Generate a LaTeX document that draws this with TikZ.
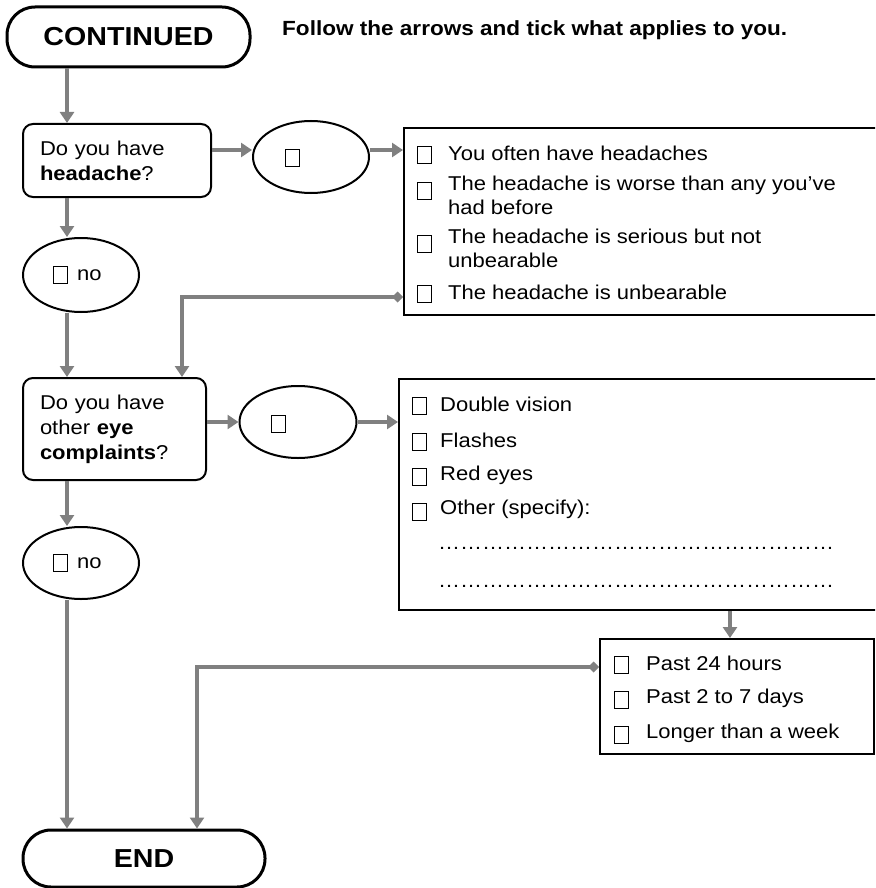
\documentclass[tikz,border=0pt]{standalone}
\usepackage{fontspec}
\setmainfont{Liberation Sans}[FakeStretch=1.1]
\usetikzlibrary{arrows.meta,shapes.geometric,calc}
\definecolor{arrgray}{RGB}{128,128,128}
\tikzset{
  arr/.style={draw=arrgray,line width=4pt,-{Triangle[length=11pt,width=14pt]}},
  darr/.style={draw=arrgray,line width=4pt,{Diamond[length=11pt,width=11pt]}-{Triangle[length=11pt,width=14pt]}},
  term/.style={draw,line width=3pt,rounded corners=28pt,inner sep=0pt,font=\fontsize{26}{30}\selectfont\bfseries},
  qbox/.style={draw,line width=2pt,rounded corners=10pt,inner xsep=17pt,inner ysep=0pt,align=left,font=\fontsize{20}{25}\selectfont},
  ans/.style={draw,line width=2pt,ellipse,inner sep=0pt,font=\fontsize{20}{24}\selectfont},
  lbox/.style={draw,line width=2pt,inner sep=0pt},
  chk/.style={draw,line width=1pt,minimum width=14pt,minimum height=17pt,inner sep=0pt},
  itm/.style={anchor=west,inner sep=0pt,align=left,font=\fontsize{20}{24}\selectfont},
}
\begin{document}
\begin{tikzpicture}[x=1pt,y=-1pt]
\useasboundingbox (0,0) rectangle (875,888);
\clip (0,0) rectangle (875,888);
% header
\node[anchor=west,inner sep=0pt,font=\fontsize{20.5}{24}\selectfont\bfseries] (hdr) at (282,30) {Follow the arrows and tick what applies to you.};
% terminals
\node[term,minimum width=243pt,minimum height=60pt] (cont) at (128.5,37) {CONTINUED};
\node[term,minimum width=242pt,minimum height=57pt] (end) at (144,858.5) {END};
% questions
\node[qbox,text width=154pt,minimum height=73pt] (head) at (117,160.5) {Do you have\\\textbf{headache}?};
\node[qbox,text width=149pt,minimum height=102pt] (eye) at (114.5,429) {Do you have\\other \textbf{eye}\\\textbf{complaints}?};
% answer ellipses
\node[ans,minimum width=116pt,minimum height=72pt] (ell1) at (311,157) {};
\node[chk] (c1) at (292.5,158) {};
\node[ans,minimum width=116pt,minimum height=74pt] (no1) at (81,275) {};
\node[chk,anchor=west] (cn1) at (53,275) {};
\node[itm] (tn1) at (77,275) {no};
\node[ans,minimum width=117pt,minimum height=72pt] (ell2) at (298,422) {};
\node[chk] (c2) at (278,424) {};
\node[ans,minimum width=116pt,minimum height=72pt] (no2) at (81,563) {};
\node[chk,anchor=west] (cn2) at (53,563) {};
\node[itm] (tn2) at (77,563) {no};
% list box 1
\node[lbox,anchor=north west,minimum width=480pt,minimum height=187pt] (list1) at (403,127) {};
\node[chk] (a1) at (424,155) {};
\node[itm] (t1) at (448,153) {You often have headaches};
\node[chk] (a2) at (424,191) {};
\node[itm] (t2) at (448,195) {The headache is worse than any you’ve\\had before};
\node[chk] (a3) at (424,244) {};
\node[itm] (t3) at (448,248) {The headache is serious but not\\unbearable};
\node[chk] (a4) at (424,294) {};
\node[itm] (t4) at (448,292) {The headache is unbearable};
% list box 2
\node[lbox,anchor=north west,minimum width=485pt,minimum height=231pt] (list2) at (398,378) {};
\node[chk] (b1) at (419.5,406) {};
\node[itm] (s1) at (440,404) {Double vision};
\node[chk] (b2) at (419.5,442) {};
\node[itm] (s2) at (440,440) {Flashes};
\node[chk] (b3) at (419.5,477) {};
\node[itm] (s3) at (440,475) {Red eyes};
\node[chk] (b4) at (419.5,512) {};
\node[itm] (s4) at (440,509) {Other (specify):};
\node[itm] (d1) at (438,548) {………………………………………………};
\node[itm] (d2) at (438,586) {………………………………………………};
% duration box
\node[lbox,anchor=north west,minimum width=274pt,minimum height=115pt] (dur) at (599,638) {};
\node[chk] (e1) at (621,665) {};
\node[itm] (u1) at (646,663) {Past 24 hours};
\node[chk] (e2) at (621,700) {};
\node[itm] (u2) at (646,698) {Past 2 to 7 days};
\node[chk] (e3) at (621,735) {};
\node[itm] (u3) at (646,733) {Longer than a week};
% connector helpers
\coordinate (cL) at (67,0);
\coordinate (r1) at (0,150);
\coordinate (k1) at (182,297);
\coordinate (k2) at (197,667);
\coordinate (cD) at (730,0);
% connectors
\draw[arr] (cont.south -| cL) -- (head.north -| cL);
\draw[arr] (head.east |- r1) -- (ell1.west |- r1);
\draw[arr] (ell1.east |- r1) -- (list1.west |- r1);
\draw[arr] (head.south -| cL) -- (no1.north -| cL);
\draw[arr] (no1.south -| cL) -- (eye.north -| cL);
\draw[darr] (list1.west |- k1) -- (k1) -- (eye.north -| k1);
\draw[arr] (eye.east |- ell2.west) -- (ell2.west);
\draw[arr] (ell2.east) -- (list2.west |- ell2.east);
\draw[arr] (eye.south -| cL) -- (no2.north -| cL);
\draw[arr] (no2.south -| cL) -- (end.north -| cL);
\draw[arr] (list2.south -| cD) -- (dur.north -| cD);
\draw[darr] (dur.west |- k2) -- (k2) -- (end.north -| k2);
\end{tikzpicture}
\end{document}
